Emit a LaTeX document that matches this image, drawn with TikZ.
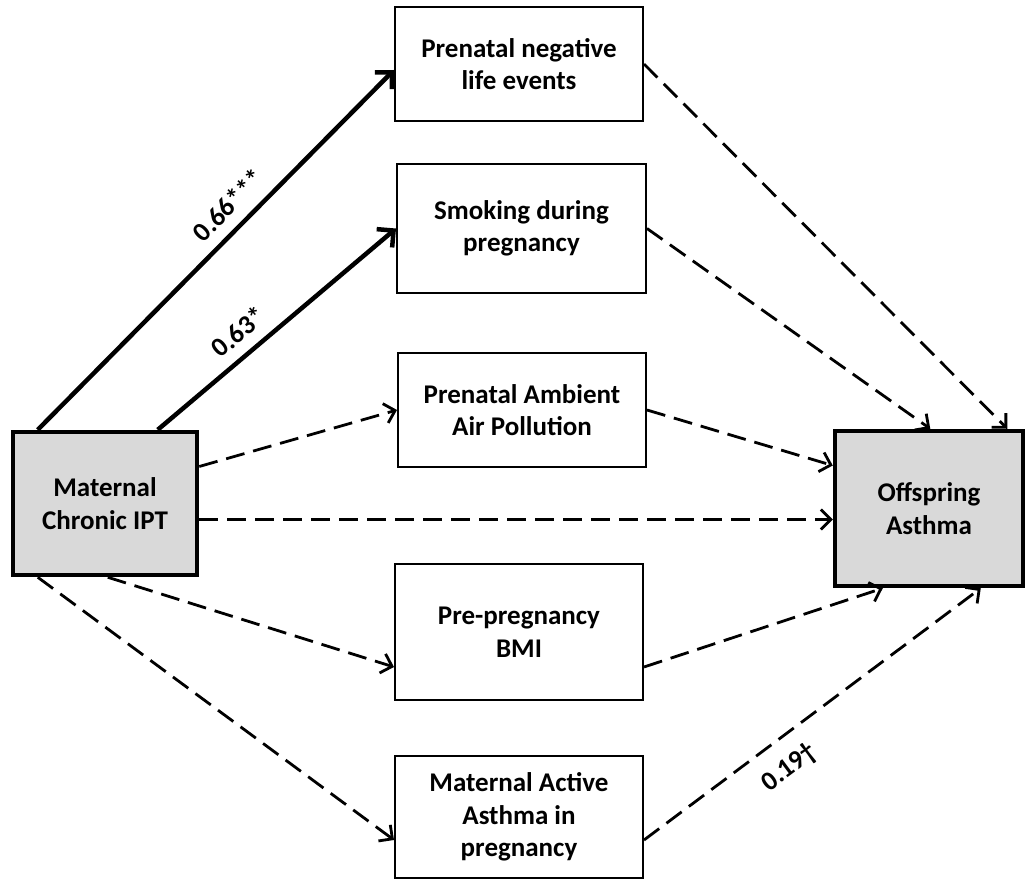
\documentclass[tikz,border=0pt]{standalone}
\usepackage{fontspec}
\setmainfont{Carlito}
\usetikzlibrary{arrows.meta}
\definecolor{boxgray}{HTML}{D9D9D9}
\begin{document}
\begin{tikzpicture}[x=1pt,y=-1pt,
  box/.style={draw=black, line width=2pt, fill=white, align=center,
    font=\fontsize{27}{32.5}\selectfont\bfseries, inner sep=0pt},
  mainbox/.style={box, line width=4.5pt, fill=boxgray},
  solidarr/.style={line width=4.5pt, -{Straight Barb[length=12pt,width=24pt]}},
  dasharr/.style={line width=2.8pt, dash pattern=on 19pt off 9pt,
    -{Straight Barb[length=10pt,width=20pt]}},
  lab/.style={font=\fontsize{27}{30}\selectfont\bfseries, inner sep=4pt, sloped}
]
\useasboundingbox (0,0) rectangle (1026,880);

\node[box, minimum width=248pt, minimum height=114pt] (neg) at (519,64) {Prenatal negative\\life events};
\node[box, minimum width=249pt, minimum height=129pt] (smk) at (521.5,228.5) {Smoking during\\pregnancy};
\node[box, minimum width=248pt, minimum height=114pt] (air) at (522,410) {Prenatal Ambient\\Air Pollution};
\node[box, minimum width=248pt, minimum height=136pt] (bmi) at (519,632) {Pre-pregnancy\\BMI};
\node[box, minimum width=248pt, minimum height=122pt] (act) at (519,817) {Maternal Active\\Asthma in\\pregnancy};
\node[mainbox, minimum width=184pt, minimum height=143pt] (ipt) at (105,503.5) {Maternal\\Chronic IPT};
\node[mainbox, minimum width=188pt, minimum height=155pt] (off) at (929,508.5) {Offspring\\Asthma};

\draw[solidarr] ([xshift=27pt]ipt.north west) -- ([yshift=-6pt]neg.west)
  node[lab, pos=0.58, above=7pt] {0.66***};
\draw[solidarr] ([xshift=147pt]ipt.north west) -- (smk.west)
  node[lab, pos=0.40, above=7pt] {0.63*};
\draw[dasharr] ([yshift=37pt]ipt.east) -- (air.west);
\draw[dasharr] ([yshift=-16pt]ipt.east) -- ([yshift=-11pt]off.west);
\draw[dasharr] ([xshift=97pt]ipt.south west) -- ([yshift=-35pt]bmi.west);
\draw[dasharr] ([xshift=27pt]ipt.south west) -- ([yshift=-23pt]act.west);

\draw[dasharr] (neg.east) -- ([xshift=-18pt]off.north east);
\draw[dasharr] (smk.east) -- ([xshift=-95pt]off.north east);
\draw[dasharr] (air.east) -- ([yshift=43pt]off.west);
\draw[dasharr] ([yshift=-35pt]bmi.east) -- ([xshift=50pt]off.south west);
\draw[dasharr] ([yshift=-23pt]act.east) -- ([xshift=148pt]off.south west)
  node[lab, pos=0.38, below=12pt] {0.19†};
\end{tikzpicture}
\end{document}
